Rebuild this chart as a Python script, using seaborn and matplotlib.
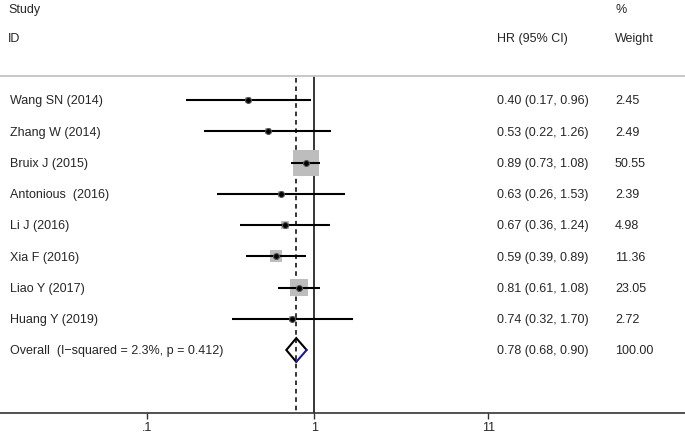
import matplotlib
matplotlib.use("Agg")
import matplotlib.pyplot as plt
import matplotlib.transforms as mtransforms
import numpy as np
import pandas as pd
import seaborn as sns

# Forest plot data
studies = ["Wang SN (2014)", "Zhang W (2014)", "Bruix J (2015)", "Antonious  (2016)",
           "Li J (2016)", "Xia F (2016)", "Liao Y (2017)", "Huang Y (2019)"]
hr = [0.40, 0.53, 0.89, 0.63, 0.67, 0.59, 0.81, 0.74]
lo = [0.17, 0.22, 0.73, 0.26, 0.36, 0.39, 0.61, 0.32]
hi = [0.96, 1.26, 1.08, 1.53, 1.24, 0.89, 1.08, 1.70]
weight = [2.45, 2.49, 50.55, 2.39, 4.98, 11.36, 23.05, 2.72]

overall_label = "Overall  (I\u2212squared = 2.3%, p = 0.412)"
overall_hr, overall_lo, overall_hi = 0.78, 0.68, 0.90
overall_weight = "100.00"

xticks = [0.1, 1, 11]
xtick_labels = [".1", "1", "11"]

df = pd.DataFrame({"study": studies, "hr": hr, "lo": lo, "hi": hi, "weight": weight})
df["row"] = np.arange(len(df))
overall_row = len(df)

FS = 9
sns.set_style("white")
plt.rcParams["font.family"] = ["Liberation Sans", "DejaVu Sans"]
plt.rcParams["font.size"] = FS

W, H = 685, 433
fig = plt.figure(figsize=(W / 100, H / 100), dpi=100)
ax_top, ax_bot = 76, 413.3
ax = fig.add_axes([0, (H - ax_bot) / H, 1, (ax_bot - ax_top) / H])
ax.set_xscale("log")
ax.set_xlim(10 ** (-314.3 / 167.1), 10 ** ((W - 314.3) / 167.1))
ax.set_ylim((ax_bot - 100) / 31.25, (ax_top - 100) / 31.25)

# weight boxes (area proportional to weight)
side_pt = 26 * np.sqrt(df["weight"] / 50.55) * 0.72
sns.scatterplot(data=df, x="hr", y="row", marker="s", s=side_pt ** 2,
                color="#bdbdbd", edgecolor="none", ax=ax, zorder=2, legend=False)

# confidence intervals
ax.hlines(df["row"], df["lo"], df["hi"], color="black", lw=1.5, zorder=3)
sns.scatterplot(data=df, x="hr", y="row", marker="o", s=18, color="black",
                edgecolor="#555555", linewidth=0.8, ax=ax, zorder=4, legend=False)

# reference lines
ax.axvline(1, color="black", lw=1.1, zorder=1)
ax.plot([overall_hr, overall_hr], [(ax_top + 2 - 100) / 31.25, (ax_bot - 100) / 31.25],
        color="black", lw=1.1, ls=(0, (3, 2.5)), zorder=1)

# overall diamond
dh = 0.38
ax.plot([overall_hr, overall_lo, overall_hr, overall_hi],
        [overall_row + dh, overall_row, overall_row - dh, overall_row],
        color="black", lw=1.5, zorder=5, solid_joinstyle="miter")
ax.plot([overall_hi, overall_hr], [overall_row, overall_row + dh],
        color="#1a1a8c", lw=1.5, zorder=5)

# row text: baseline placed so that cap height is centred on the row
shift = -0.358 * FS
tr = mtransforms.offset_copy(ax.get_yaxis_transform(), fig=fig, y=shift, units="points")
for _, r in df.iterrows():
    ax.text(10 / W, r["row"], r["study"], transform=tr, va="baseline", ha="left")
    ax.text(497 / W, r["row"], f"{r['hr']:.2f} ({r['lo']:.2f}, {r['hi']:.2f})",
            transform=tr, va="baseline", ha="left")
    ax.text(615 / W, r["row"], f"{r['weight']:.2f}", transform=tr, va="baseline", ha="left")
ax.text(10 / W, overall_row, overall_label, transform=tr, va="baseline", ha="left")
ax.text(497 / W, overall_row, f"{overall_hr:.2f} ({overall_lo:.2f}, {overall_hi:.2f})",
        transform=tr, va="baseline", ha="left")
ax.text(615 / W, overall_row, overall_weight, transform=tr, va="baseline", ha="left")

# headers
ftr = mtransforms.offset_copy(fig.transFigure, fig=fig, y=shift, units="points")
fig.text(8 / W, 1 - 9 / H, "Study", va="baseline", ha="left", transform=ftr)
fig.text(8 / W, 1 - 38 / H, "ID", va="baseline", ha="left", transform=ftr)
fig.text(497 / W, 1 - 38 / H, "HR (95% CI)", va="baseline", ha="left", transform=ftr)
fig.text(615 / W, 1 - 9 / H, "%", va="baseline", ha="left", transform=ftr)
fig.text(615 / W, 1 - 38 / H, "Weight", va="baseline", ha="left", transform=ftr)

# header separator
fig.add_artist(plt.Line2D([0, 1], [1 - ax_top / H, 1 - ax_top / H],
                          color="#c4c4c4", lw=1.3))

# axis styling
for s in ["left", "right", "top"]:
    ax.spines[s].set_visible(False)
ax.spines["bottom"].set_color("#333333")
ax.spines["bottom"].set_linewidth(1.2)
ax.set_yticks([])
ax.set_xticks(xticks)
ax.set_xticklabels(xtick_labels)
ax.xaxis.set_minor_locator(matplotlib.ticker.NullLocator())
ax.tick_params(axis="x", which="major", bottom=True, length=4, width=1, color="#333333",
               pad=2, labelsize=FS)
ax.set_xlabel("")
ax.set_ylabel("")

fig.savefig("out.png", dpi=100)
